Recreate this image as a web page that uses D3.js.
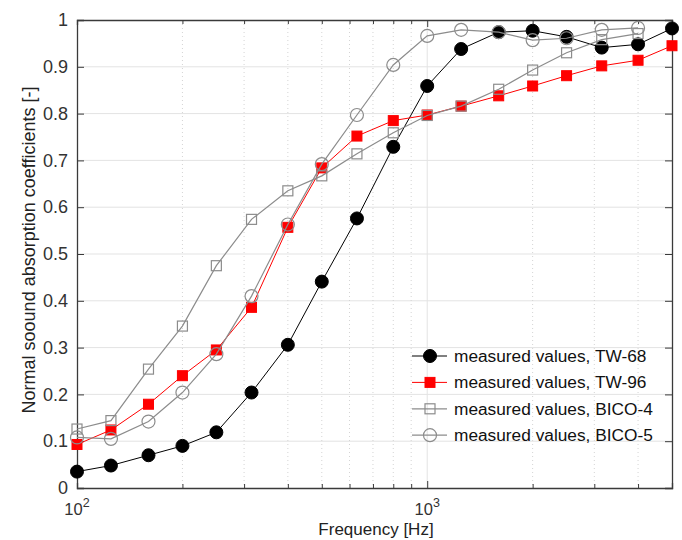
<!DOCTYPE html>
<html>
<head>
<meta charset="utf-8">
<script src="https://cdn.jsdelivr.net/npm/d3@7"></script>
<style>
  body { margin: 0; background: #fff; }
  svg { font-family: "Liberation Sans", Arial, sans-serif; }
</style>
</head>
<body>
<div id="chart"></div>
<script>
// third-octave band centre frequencies [Hz]
const freqs = [100, 125, 160, 200, 250, 315, 400, 500, 630, 800, 1000, 1250, 1600, 2000, 2500, 3150, 4000, 5000];

// normal sound absorption coefficients
const tw68  = [0.035, 0.048, 0.070, 0.090, 0.119, 0.204, 0.306, 0.441, 0.576, 0.729, 0.859, 0.938, 0.974, 0.977, 0.964, 0.941, 0.948, 0.982];
const tw96  = [0.093, 0.124, 0.179, 0.240, 0.295, 0.386, 0.557, 0.684, 0.752, 0.785, 0.797, 0.816, 0.838, 0.859, 0.881, 0.902, 0.914, 0.945];
const bico4 = [0.126, 0.144, 0.254, 0.346, 0.475, 0.574, 0.635, 0.667, 0.714, 0.759, 0.796, 0.816, 0.852, 0.893, 0.930, 0.958, 0.971];
const bico5 = [0.108, 0.105, 0.142, 0.204, 0.286, 0.410, 0.563, 0.692, 0.797, 0.904, 0.966, 0.979, 0.974, 0.957, 0.961, 0.979, 0.983];

const seriesNames = ["measured values, TW-68", "measured values, TW-96", "measured values, BICO-4", "measured values, BICO-5"];
const yTicks = [0, 0.1, 0.2, 0.3, 0.4, 0.5, 0.6, 0.7, 0.8, 0.9, 1];
const minorFreqs = [200, 300, 400, 500, 600, 700, 800, 900, 2000, 3000, 4000];
const decades = [100, 1000];

const svgWidth = 682, svgHeight = 540;
const margin = {top: 20, right: 10, bottom: 52, left: 77};
const width = svgWidth - margin.left - margin.right,
      height = svgHeight - margin.top - margin.bottom;

const svg = d3.select("#chart").append("svg")
  .attr("width", svgWidth)
  .attr("height", svgHeight);

const g = svg.append("g")
  .attr("transform", `translate(${margin.left},${margin.top})`);

const x = d3.scaleLog().domain([100, 5000]).range([0, width]);
const y = d3.scaleLinear().domain([0, 1]).range([height, 0]);

// grid
g.selectAll(".hgrid").data(yTicks.slice(1, -1)).enter()
  .append("line")
  .attr("x1", 0).attr("x2", width)
  .attr("y1", d => y(d)).attr("y2", d => y(d))
  .style("stroke", "#e3e3e3").style("stroke-width", 1);

g.selectAll(".vminor").data(minorFreqs).enter()
  .append("line")
  .attr("x1", d => x(d)).attr("x2", d => x(d))
  .attr("y1", 0).attr("y2", height)
  .style("stroke", "#d4d4d4").style("stroke-width", 1)
  .style("stroke-dasharray", "1,3");

g.append("line")
  .attr("x1", x(1000)).attr("x2", x(1000))
  .attr("y1", 0).attr("y2", height)
  .style("stroke", "#e3e3e3").style("stroke-width", 1);

// axes (ticks inward)
const axisColor = "#3a3a3a";
const yAxis = g.append("g").call(d3.axisLeft(y).tickValues(yTicks).tickSize(-7).tickPadding(9).tickFormat(d3.format("")));
const yAxisR = g.append("g").attr("transform", `translate(${width},0)`)
  .call(d3.axisRight(y).tickValues(yTicks).tickSize(-7).tickFormat(""));
const xAxis = g.append("g").attr("transform", `translate(0,${height})`)
  .call(d3.axisBottom(x).tickValues(decades.concat(minorFreqs)).tickSize(-5).tickFormat(""));
const xAxisT = g.append("g")
  .call(d3.axisTop(x).tickValues(decades.concat(minorFreqs)).tickSize(-5).tickFormat(""));

[yAxis, yAxisR, xAxis, xAxisT].forEach(a => {
  a.select(".domain").style("stroke", axisColor).style("stroke-width", 1.3);
  a.selectAll(".tick line").style("stroke", axisColor);
  a.selectAll("text").style("font-size", "18px").style("fill", "#333")
    .style("font-family", "\"Liberation Sans\", Arial, sans-serif");
});
// major ticks at decades slightly longer
xAxis.selectAll(".tick line").attr("y2", d => decades.includes(d) ? -7 : -4);
xAxisT.selectAll(".tick line").attr("y2", d => decades.includes(d) ? 7 : 4);

// decade labels 10^2, 10^3
const dec = g.selectAll(".declab").data(decades).enter()
  .append("text")
  .attr("x", d => x(d))
  .attr("y", 515 - margin.top)
  .style("font-size", "16.5px").style("fill", "#333")
  .attr("text-anchor", "middle");
dec.append("tspan").text("10");
dec.append("tspan").attr("dy", -8).style("font-size", "12.5px").text(d => Math.round(Math.log10(d)));

// axis titles
svg.append("text")
  .attr("x", 376)
  .attr("y", 535)
  .attr("text-anchor", "middle")
  .style("font-size", "17px").style("fill", "#222")
  .text("Frequency [Hz]");

svg.append("text")
  .attr("transform", `translate(35,250) rotate(-90)`)
  .attr("text-anchor", "middle")
  .style("font-size", "18px").style("fill", "#222")
  .text("Normal soound absorption coefficients [-]");

// series
const series = [
  {name: seriesNames[0], vals: tw68,  color: "#000000", width: 1, shape: "circle", fill: "#000000", size: 6.5},
  {name: seriesNames[1], vals: tw96,  color: "#ff0000", width: 1, shape: "square", fill: "#ff0000", size: 10},
  {name: seriesNames[2], vals: bico4, color: "#8c8c8c", width: 1.2, shape: "square", fill: "none", size: 10},
  {name: seriesNames[3], vals: bico5, color: "#8c8c8c", width: 1.2, shape: "circle", fill: "none", size: 6.5}
];

const line = d3.line().x(d => x(d[0])).y(d => y(d[1]));

function drawMarker(sel, s, px, py) {
  if (s.shape === "circle") {
    sel.append("circle")
      .attr("cx", px).attr("cy", py).attr("r", s.size)
      .style("fill", s.fill === "none" ? "none" : s.fill)
      .style("stroke", s.color).style("stroke-width", s.fill === "none" ? 1.2 : 1);
  } else {
    sel.append("rect")
      .attr("x", px - s.size / 2).attr("y", py - s.size / 2)
      .attr("width", s.size).attr("height", s.size)
      .style("fill", s.fill === "none" ? "none" : s.fill)
      .style("stroke", s.color).style("stroke-width", s.fill === "none" ? 1.2 : 1);
  }
}

series.forEach(s => {
  const pts = s.vals.map((v, i) => [freqs[i], v]);
  const sg = g.append("g");
  sg.append("path")
    .datum(pts)
    .attr("d", line)
    .style("fill", "none")
    .style("stroke", s.color)
    .style("stroke-width", s.width);
  pts.forEach(p => drawMarker(sg, s, x(p[0]), y(p[1])));
});

// legend
const legend = svg.append("g").attr("transform", "translate(412,356)");
series.forEach((s, i) => {
  const row = legend.append("g").attr("transform", `translate(0,${i * 26.4})`);
  row.append("line").attr("x1", 0).attr("x2", 35).attr("y1", 0).attr("y2", 0)
    .style("stroke", s.color).style("stroke-width", s.width);
  drawMarker(row, s, 18, 0);
  row.append("text")
    .attr("x", 42).attr("y", 0).attr("dy", "0.35em")
    .style("font-size", "17.3px").style("fill", "#111")
    .text(s.name);
});
</script>
</body>
</html>
